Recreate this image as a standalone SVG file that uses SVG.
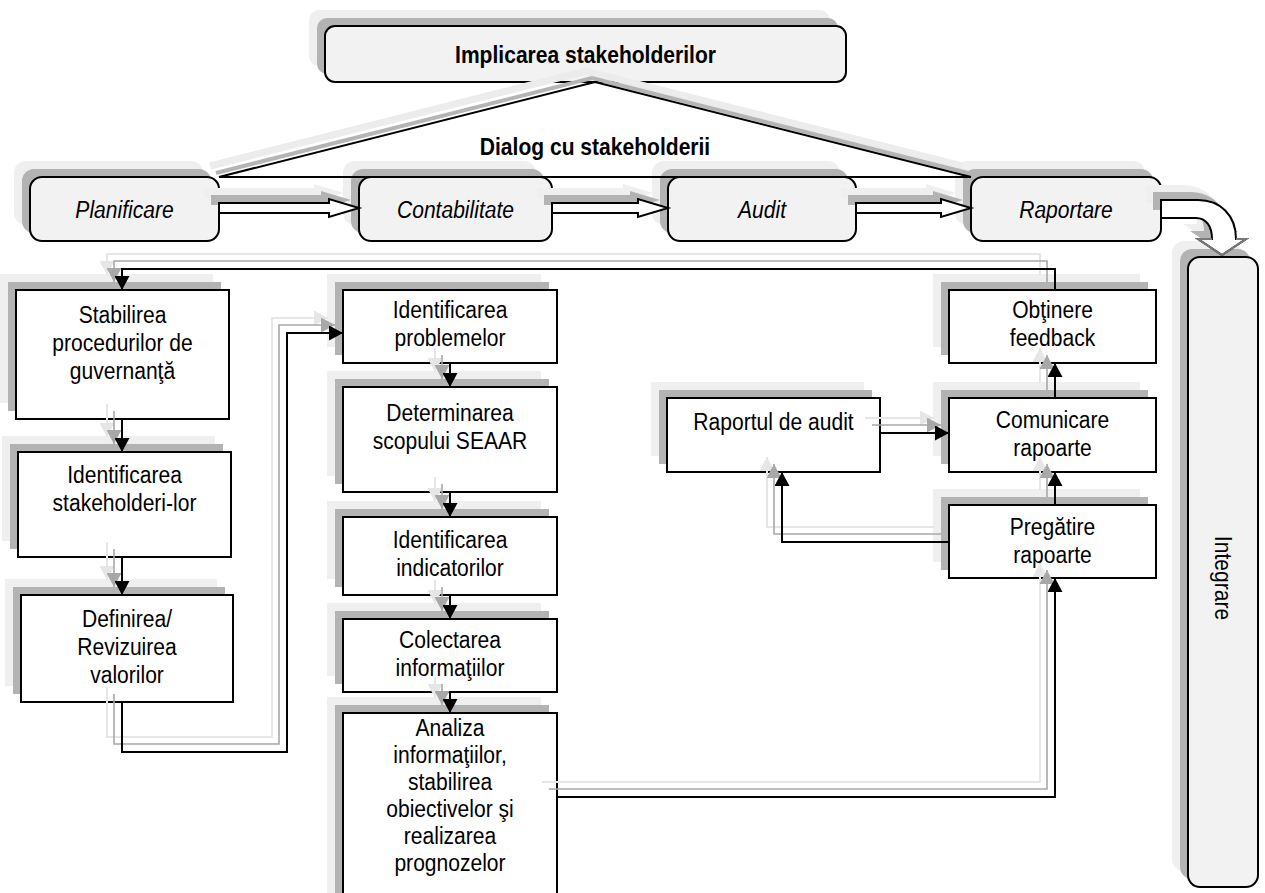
<svg xmlns="http://www.w3.org/2000/svg" width="1265" height="893" viewBox="0 0 1265 893">
<style>
  .t{font-family:"Liberation Sans",Arial,sans-serif;font-size:24.5px;text-anchor:middle;fill:#000}
  .it{font-style:italic}
  .bd{font-weight:bold}
  .bx{fill:#fff;stroke:#000;stroke-width:2}
  .rb{fill:#f2f2f2;stroke:#000;stroke-width:2}
  .sd{fill:#b3b3b3}
  .sl{fill:#efefef}
  .ln{fill:none;stroke:#000;stroke-width:2;marker-end:url(#ah)}
  .lnd{fill:none;stroke:#a8a8a8;stroke-width:1.6;marker-end:url(#ahd)}
  .lnl{fill:none;stroke:#e6e6e6;stroke-width:2;marker-end:url(#ahl)}
  .ha{fill:#fff;stroke:#000;stroke-width:2;stroke-linejoin:miter}
  .edge{fill:none;stroke:#000;stroke-width:2}
</style>
<defs>
  <marker id="ah" markerUnits="userSpaceOnUse" viewBox="0 0 15 15" markerWidth="15" markerHeight="15" refX="14" refY="7.5" orient="auto"><path d="M0,0 L14,7.5 L0,15 Z" fill="#000"/></marker>
  <marker id="ahd" markerUnits="userSpaceOnUse" viewBox="0 0 15 15" markerWidth="15" markerHeight="15" refX="14" refY="7.5" orient="auto"><path d="M0,0 L14,7.5 L0,15 Z" fill="#a8a8a8"/></marker>
  <marker id="ahl" markerUnits="userSpaceOnUse" viewBox="0 0 15 15" markerWidth="15" markerHeight="15" refX="14" refY="7.5" orient="auto"><path d="M0,0 L14,7.5 L0,15 Z" fill="#e6e6e6"/></marker>
  <!-- connector routes, drawn once and reused for the two shadow layers -->
  <path id="w1" d="M1055,290 V269 H122 V290"/>
  <path id="w2" d="M122,419 V452"/>
  <path id="w3" d="M122,557 V595"/>
  <path id="w4" d="M122,702 V752 H287 V333 H343"/>
  <path id="w5" d="M450,363 V387"/>
  <path id="w6" d="M450,492 V517"/>
  <path id="w7" d="M450,595 V619"/>
  <path id="w8" d="M450,692 V713"/>
  <path id="w9" d="M557,797 H1055 V578"/>
  <path id="w10" d="M1055,505 V472"/>
  <path id="w11" d="M1055,398 V363"/>
  <path id="w12" d="M880,433 H949"/>
  <path id="w13" d="M949,542 H782 V472"/>
  <path id="hollow1" d="M219,203 H329 V199 L359,208 L329,217 V213 H219 Z"/>
  <path id="hollow2" d="M552,203 H638 V199 L668,208 L638,217 V213 H552 Z"/>
  <path id="hollow3" d="M856,203 H941 V199 L971,208 L941,217 V213 H856 Z"/>
  <path id="bend" d="M1161,200 H1198 C1220,200 1236,215 1236,239 H1246 L1222,255 L1198,239 H1212 C1212,226 1206,218 1196,218 H1161 Z"/>
</defs>

<!-- top banner -->
<g id="implicare">
  <rect class="sl" x="309" y="10" width="521" height="56" rx="10"/>
  <rect class="sd" x="317" y="18" width="521" height="56" rx="10"/>
  <rect class="rb" x="325" y="26" width="521" height="56" rx="10"/>
  <text class="t bd" transform="matrix(.86 0 0 1 585.5 0)" x="0" y="63">Implicarea stakeholderilor</text>
</g>

<!-- process row -->
<g id="planificare">
  <rect class="sl" x="14" y="161" width="189" height="64" rx="12"/>
  <rect class="sd" x="22" y="169" width="189" height="64" rx="12"/>
  <rect class="rb" x="30" y="177" width="189" height="64" rx="12"/>
  <text class="t it" transform="matrix(.86 0 0 1 124.5 0)" x="0" y="218">Planificare</text>
</g>
<g id="contabilitate">
  <rect class="sl" x="343" y="161" width="193" height="64" rx="12"/>
  <rect class="sd" x="351" y="169" width="193" height="64" rx="12"/>
  <rect class="rb" x="359" y="177" width="193" height="64" rx="12"/>
  <text class="t it" transform="matrix(.86 0 0 1 455.5 0)" x="0" y="218">Contabilitate</text>
</g>
<g id="audit">
  <rect class="sl" x="652" y="161" width="188" height="64" rx="12"/>
  <rect class="sd" x="660" y="169" width="188" height="64" rx="12"/>
  <rect class="rb" x="668" y="177" width="188" height="64" rx="12"/>
  <text class="t it" transform="matrix(.86 0 0 1 762 0)" x="0" y="218">Audit</text>
</g>
<g id="raportare">
  <rect class="sl" x="955" y="161" width="190" height="64" rx="12"/>
  <rect class="sd" x="963" y="169" width="190" height="64" rx="12"/>
  <rect class="rb" x="971" y="177" width="190" height="64" rx="12"/>
  <text class="t it" transform="matrix(.86 0 0 1 1066 0)" x="0" y="218">Raportare</text>
</g>
<g id="integrare">
  <rect class="sl" x="1172" y="241" width="70" height="630" rx="12"/>
  <rect class="sd" x="1180" y="249" width="70" height="630" rx="12"/>
  <rect class="rb" x="1188" y="257" width="70" height="630" rx="12"/>
  <text class="t" transform="translate(1223,578) rotate(90) scale(.86,1)" x="0" y="8">Integrare</text>
</g>

<!-- planning column -->
<g id="stabilirea">
  <rect class="sl" x="0" y="274" width="213" height="129"/>
  <rect class="sd" x="8" y="282" width="213" height="129"/>
  <rect class="bx" x="16" y="290" width="213" height="129"/>
  <text class="t" transform="matrix(.86 0 0 1 122.5 0)"><tspan x="0" y="323">Stabilirea</tspan><tspan x="0" y="351">procedurilor de</tspan><tspan x="0" y="379">guvernanţă</tspan></text>
</g>
<g id="identificarea-stakeholderi">
  <rect class="sl" x="2" y="436" width="213" height="105"/>
  <rect class="sd" x="10" y="444" width="213" height="105"/>
  <rect class="bx" x="18" y="452" width="213" height="105"/>
  <text class="t" transform="matrix(.86 0 0 1 124.5 0)"><tspan x="0" y="483">Identificarea</tspan><tspan x="0" y="511">stakeholderi-lor</tspan></text>
</g>
<g id="definirea">
  <rect class="sl" x="5" y="579" width="212" height="107"/>
  <rect class="sd" x="13" y="587" width="212" height="107"/>
  <rect class="bx" x="21" y="595" width="212" height="107"/>
  <text class="t" transform="matrix(.86 0 0 1 127 0)"><tspan x="0" y="627">Definirea/</tspan><tspan x="0" y="655">Revizuirea</tspan><tspan x="0" y="683">valorilor</tspan></text>
</g>

<!-- accounting column -->
<g id="identificarea-problemelor">
  <rect class="sl" x="327" y="274" width="214" height="73"/>
  <rect class="sd" x="335" y="282" width="214" height="73"/>
  <rect class="bx" x="343" y="290" width="214" height="73"/>
  <text class="t" transform="matrix(.86 0 0 1 450 0)"><tspan x="0" y="318">Identificarea</tspan><tspan x="0" y="346">problemelor</tspan></text>
</g>
<g id="determinarea">
  <rect class="sl" x="327" y="371" width="214" height="105"/>
  <rect class="sd" x="335" y="379" width="214" height="105"/>
  <rect class="bx" x="343" y="387" width="214" height="105"/>
  <text class="t" transform="matrix(.86 0 0 1 450 0)"><tspan x="0" y="421">Determinarea</tspan><tspan x="0" y="449">scopului SEAAR</tspan></text>
</g>
<g id="identificarea-indicatorilor">
  <rect class="sl" x="327" y="501" width="214" height="78"/>
  <rect class="sd" x="335" y="509" width="214" height="78"/>
  <rect class="bx" x="343" y="517" width="214" height="78"/>
  <text class="t" transform="matrix(.86 0 0 1 450 0)"><tspan x="0" y="548">Identificarea</tspan><tspan x="0" y="576">indicatorilor</tspan></text>
</g>
<g id="colectarea">
  <rect class="sl" x="327" y="603" width="214" height="73"/>
  <rect class="sd" x="335" y="611" width="214" height="73"/>
  <rect class="bx" x="343" y="619" width="214" height="73"/>
  <text class="t" transform="matrix(.86 0 0 1 450 0)"><tspan x="0" y="648">Colectarea</tspan><tspan x="0" y="676">informaţiilor</tspan></text>
</g>
<g id="analiza">
  <rect class="sl" x="327" y="697" width="214" height="200"/>
  <rect class="sd" x="335" y="705" width="214" height="200"/>
  <rect class="bx" x="343" y="713" width="214" height="200"/>
  <text class="t" transform="matrix(.86 0 0 1 450 0)"><tspan x="0" y="736">Analiza</tspan><tspan x="0" y="763">informaţiilor,</tspan><tspan x="0" y="790">stabilirea</tspan><tspan x="0" y="817">obiectivelor şi</tspan><tspan x="0" y="844">realizarea</tspan><tspan x="0" y="871">prognozelor</tspan></text>
</g>

<!-- reporting column -->
<g id="raportul-de-audit">
  <rect class="sl" x="651" y="382" width="213" height="74"/>
  <rect class="sd" x="659" y="390" width="213" height="74"/>
  <rect class="bx" x="667" y="398" width="213" height="74"/>
  <text class="t" transform="matrix(.86 0 0 1 773.5 0)" x="0" y="430">Raportul de audit</text>
</g>
<g id="obtinere-feedback">
  <rect class="sl" x="933" y="274" width="207" height="73"/>
  <rect class="sd" x="941" y="282" width="207" height="73"/>
  <rect class="bx" x="949" y="290" width="207" height="73"/>
  <text class="t" transform="matrix(.86 0 0 1 1052.5 0)"><tspan x="0" y="318">Obţinere</tspan><tspan x="0" y="346">feedback</tspan></text>
</g>
<g id="comunicare-rapoarte">
  <rect class="sl" x="933" y="382" width="207" height="74"/>
  <rect class="sd" x="941" y="390" width="207" height="74"/>
  <rect class="bx" x="949" y="398" width="207" height="74"/>
  <text class="t" transform="matrix(.86 0 0 1 1052.5 0)"><tspan x="0" y="428">Comunicare</tspan><tspan x="0" y="456">rapoarte</tspan></text>
</g>
<g id="pregatire-rapoarte">
  <rect class="sl" x="933" y="489" width="207" height="73"/>
  <rect class="sd" x="941" y="497" width="207" height="73"/>
  <rect class="bx" x="949" y="505" width="207" height="73"/>
  <text class="t" transform="matrix(.86 0 0 1 1052.5 0)"><tspan x="0" y="535">Pregătire</tspan><tspan x="0" y="563">rapoarte</tspan></text>
</g>

<!-- connectors -->
<g id="connectors">
  <!-- dialogue triangle between the banner and the process row -->
  <polyline points="219,177 595,82 971,177" fill="none" stroke="#ececec" stroke-width="7" transform="translate(-9,-11)"/>
  <polyline points="219,177 595,82 971,177" fill="none" stroke="#b5b5b5" stroke-width="4" transform="translate(-3,-4)"/>
  <polyline class="edge" points="219,177 595,82 971,177"/>
  <line class="edge" x1="219" y1="177" x2="971" y2="177"/>
  <text class="t bd" transform="matrix(.86 0 0 1 595 0)" x="0" y="155">Dialog cu stakeholderii</text>

  <!-- hollow flow arrows along the process row -->
  <g fill="#efefef" transform="translate(-15,-15)"><use href="#hollow1"/><use href="#hollow2"/><use href="#hollow3"/><use href="#bend"/></g>
  <g fill="#b3b3b3" transform="translate(-8,-8)"><use href="#hollow1"/><use href="#hollow2"/><use href="#hollow3"/><use href="#bend"/></g>
  <g class="ha"><use href="#hollow1"/><use href="#hollow2"/><use href="#hollow3"/><use href="#bend"/></g>
  <!-- grey outline on the head of the bent arrow into Integrare -->
  <polyline points="1236,239 1246,239 1222,255 1198,239 1212,239" fill="none" stroke="#7a7a7a" stroke-width="2"/>

  <!-- step connectors with their shadow layers -->
  <g class="lnl" transform="translate(-15,-15)">
    <use href="#w1"/><use href="#w2"/><use href="#w3"/><use href="#w4"/><use href="#w5"/><use href="#w6"/><use href="#w7"/><use href="#w8"/><use href="#w9"/><use href="#w10"/><use href="#w11"/><use href="#w12"/><use href="#w13"/>
  </g>
  <g class="lnd" transform="translate(-8,-8)">
    <use href="#w1"/><use href="#w2"/><use href="#w3"/><use href="#w4"/><use href="#w5"/><use href="#w6"/><use href="#w7"/><use href="#w8"/><use href="#w9"/><use href="#w10"/><use href="#w11"/><use href="#w12"/><use href="#w13"/>
  </g>
  <g class="ln">
    <use href="#w1"/><use href="#w2"/><use href="#w3"/><use href="#w4"/><use href="#w5"/><use href="#w6"/><use href="#w7"/><use href="#w8"/><use href="#w9"/><use href="#w10"/><use href="#w11"/><use href="#w12"/><use href="#w13"/>
  </g>
</g>
</svg>
